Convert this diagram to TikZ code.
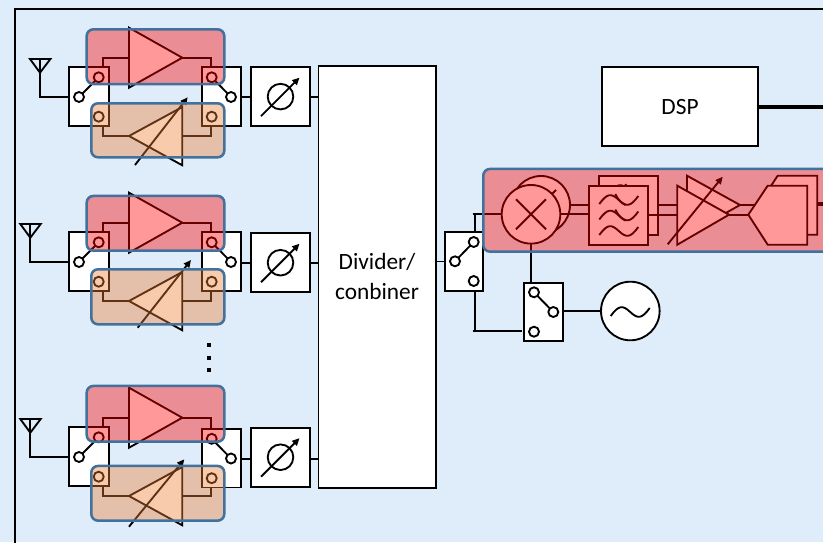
\documentclass[tikz,border=0pt]{standalone}
\usepackage{fontspec}
\setmainfont{Carlito}
\usetikzlibrary{arrows.meta,calc}
\definecolor{bgblue}{HTML}{DFECF9}
\definecolor{edgeblue}{HTML}{41719C}
\definecolor{tanfill}{HTML}{ED7D31}
\tikzset{
  wire/.style={line width=1.4pt,line join=miter},
  boxn/.style 2 args={draw=black,line width=1.4pt,fill=white,rectangle,inner sep=0pt,outer sep=0pt,
    minimum width=#1*0.75pt,minimum height=#2*0.75pt},
  port/.style={draw=black,line width=1.4pt,fill=white,circle,inner sep=0pt,outer sep=0pt,minimum size=10*0.75pt},
  ring/.style={draw=black,line width=1.4pt,fill=white,circle,inner sep=0pt,outer sep=0pt,minimum size=#1*0.75pt},
  solid shape/.style={draw=black,line width=1.4pt,fill=white,line join=miter},
  tune/.style={line width=1.4pt,-{Triangle[length=5.5pt,width=5pt]}},
  overlay base/.style 2 args={rectangle,rounded corners=5pt,inner sep=0pt,outer sep=0pt,
    minimum width=#1*0.75pt,minimum height=#2*0.75pt,draw=edgeblue,line width=1.9pt,
    draw opacity=1,fill opacity=0.4},
  redzone/.style 2 args={overlay base={#1}{#2},fill=red},
  tanzone/.style 2 args={overlay base={#1}{#2},fill=tanfill},
  label text/.style={font=\fontsize{17.5}{22.5}\selectfont,align=center,inner sep=0pt,text=black},
}
% wave: start point is lower left
\newcommand{\wavepath}[2]{(#1,#2) .. controls (#1+8,#2-11) and (#1+12,#2-11) .. (#1+19.5,#2-4) .. controls (#1+27,#2+3) and (#1+31,#2+3) .. (#1+39,#2-8)}
\newcommand{\filtersym}[2]{% #1,#2: left top of the wave group
  \draw[wire] \wavepath{#1}{#2};
  \draw[wire] \wavepath{#1}{#2+15.5};
  \draw[wire] \wavepath{#1}{#2+31};
  \draw[wire] (#1+16,#2-10) .. controls (#1+19,#2-4) and (#1+22,#2-1) .. (#1+26,#2+1);
  \draw[wire] (#1+16,#2+5.5) .. controls (#1+19,#2+11.5) and (#1+22,#2+14.5) .. (#1+26,#2+16.5);
}
% one antenna branch: prefix, y shift, antenna x shift, right box dy, phase box dy, bus dy, arrow start, arrow end
\newcommand{\rfbranch}[8]{
\begin{scope}[shift={(0,#2)}]
  \coordinate (#1-anttip) at ({40+#3},72.7);
  \coordinate (#1-antl) at ({30+#3},59);
  \coordinate (#1-antr) at ({50.4+#3},59);
  \coordinate (#1-anttop) at ({40+#3},59);
  \node[boxn={39.4}{58.7}] (#1-lb) at (89,96.7) {};
  \node[boxn={38.7}{58.7}] (#1-rb) at (221.65,{96.7+#4}) {};
  \node[boxn={59}{59}] (#1-ph) at (280.5,{96.6+#5}) {};
  \draw[wire] (#1-anttop) |- (#1-lb.west);
  \draw[solid shape,fill=none] (#1-antl) -- (#1-antr) -- (#1-anttip) -- cycle;
  \coordinate (#1-bus) at (0,{97+#6});
  \draw[wire] (#1-rb.east |- #1-bus) -- (#1-ph.west |- #1-bus);
  \draw[wire] (#1-ph.east |- #1-bus) -- (div.west |- #1-bus);
  % switch ports
  \node[port] (#1-lp1) at (98.7,77.3) {};
  \node[port] (#1-lp2) at (98.7,116.7) {};
  \node[port] (#1-lc) at (79,97) {};
  \node[port] (#1-rp1) at (211.7,{77.3+#4}) {};
  \node[port] (#1-rp2) at (211.7,{116.7+#4}) {};
  \node[port] (#1-rc) at (231,{97+#4}) {};
  \draw[wire] (#1-lc) -- (#1-lp1);
  \draw[wire] (#1-rc) -- (#1-rp1);
  % power amplifier
  \coordinate (#1-pat) at (129,27.7);
  \coordinate (#1-pab) at (129,87.7);
  \coordinate (#1-pain) at (129,57.7);
  \coordinate (#1-paout) at (182.3,57.7);
  \draw[wire] (#1-pain) -| (#1-lb.north -| 102.7,0);
  \draw[wire] (#1-paout) -| (#1-rb.north -| 210.7,0);
  \draw[solid shape] (#1-pat) -- (#1-paout) -- (#1-pab) -- cycle;
  % variable amplifier
  \coordinate (#1-vain) at (129,136);
  \coordinate (#1-vat) at (182.3,107);
  \coordinate (#1-vab) at (182.3,165.3);
  \coordinate (#1-vaout) at (182.3,136);
  \draw[wire] (#1-vain) -| (#1-lb.south -| 102.7,0);
  \draw[wire] (#1-vaout) -| (#1-rb.south -| 210.7,0);
  \draw[solid shape] (#1-vain) -- (#1-vat) -- (#1-vab) -- cycle;
  \coordinate (#1-arra) at #7;
  \coordinate (#1-arrb) at #8;
  \draw[tune] (#1-arra) -- (#1-arrb);
  % phase shifter
  \node[ring=25.6] (#1-phc) at (#1-ph.center) {};
  \coordinate (#1-pa1) at ($(#1-ph.center)+(-19.5,19.5)$);
  \coordinate (#1-pa2) at ($(#1-ph.center)+(19,-19)$);
  \draw[tune] (#1-pa1) -- (#1-pa2);
\end{scope}
}
\begin{document}
\begin{tikzpicture}[x=0.75pt,y=-0.75pt]
\useasboundingbox (0,0) rectangle (823,542);
\fill[bgblue] (0,0) rectangle (823,542);
\clip (0,0) rectangle (823,542);
\coordinate (frame-bl) at (15,560);
\coordinate (frame-tl) at (15,8.8);
\coordinate (frame-tr) at (840,8.8);
\draw[line width=1.4pt] (frame-bl) -- (frame-tl) -- (frame-tr);

\node[boxn={117.5}{422},label text] (div) at (377.25,277) {};
\node[label text] (divtext) at (377,276) {Divider/\\conbiner};
\node[boxn={156.6}{78.4}] (dsp) at (680,106.5) {};
\node[label text] (dsptext) at (680,107) {DSP};
\coordinate (dspout) at (830,107);
\draw[line width=3pt] (dsp.east) ++(-1,0) -- (dspout |- dsp.east);

\rfbranch{a}{0}{0}{0}{0}{0}{(135,165)}{(187.7,97.3)}
\rfbranch{b}{165}{-9.7}{0}{1.1}{0.7}{(137.7,162.7)}{(191,95)}
\rfbranch{c}{360}{-9.7}{1.5}{0.6}{1.7}{(129,166.7)}{(184.3,99.3)}

% dots
\fill (206.7,343) rectangle +(4,4);
\fill (206.7,355.7) rectangle +(4,4);
\fill (206.7,368) rectangle +(4,4);

% transmit/receive chain switches
\node[boxn={38}{58.4}] (txsw) at (464.3,261.5) {};
\node[port] (txa) at (473.7,242) {};
\node[port] (txc) at (455,261.3) {};
\node[port] (txb) at (473.7,281) {};
\draw[wire] (txc) -- (txa);
\draw[wire] (div.east |- txsw.west) -- (txsw.west);
\node[boxn={39.3}{58.6}] (losw) at (543.65,312) {};
\node[port] (loa) at (534,292.3) {};
\node[port] (loc) at (553.3,312) {};
\node[port] (lob) at (534,331.7) {};
\draw[wire] (loc) -- (loa);
\node[ring=58.6] (osc) at (630.3,311) {};
\draw[wire] (losw.east |- osc.west) -- (osc.west);
\draw[wire] \wavepath{610.7}{316};

% back layer of the chain
\node[boxn={59.3}{59.3}] (filb) at (628.65,205.35) {};
\filtersym{609.3}{194}
\node[ring=58] (mixb) at (541,205) {};
\draw[wire] (526,190) -- (556,220);
\draw[wire] (556,190) -- (526,220);
\coordinate (vgbt) at (687,175.7);
\coordinate (vgbb) at (687,234.7);
\coordinate (vgbo) at (740,205);
\coordinate (adbl) at (758.3,205);
\coordinate (stub) at (830,203.5);
\draw[wire] (mixb.east) -- (filb.west |- mixb.east);
\draw[wire] (filb.east |- vgbo) -- (vgbt |- vgbo);
\draw[wire] (vgbo) -- (adbl);
\draw[solid shape] (vgbt) -- (vgbo) -- (vgbb) -- cycle;
\coordinate (adb1) at (817.3,175.7);
\coordinate (adb2) at (817.3,234.7);
\coordinate (adb3) at (777.7,234.7);
\coordinate (adb5) at (777.7,175.7);
\draw[solid shape] (adb1) -- (adb2) -- (adb3) -- (adbl) -- (adb5) -- cycle;
\draw[line width=3pt] (adb1 |- stub) -- (stub);

% front layer of the chain
\node[boxn={59}{59}] (filf) at (618.8,215.2) {};
\filtersym{599.3}{204}
\node[ring=58.6] (mixf) at (531,214.3) {};
\draw[wire] (516,199.3) -- (546,229.3);
\draw[wire] (546,199.3) -- (516,229.3);
\coordinate (vgft) at (677.3,185.7);
\coordinate (vgfb) at (677.3,244.7);
\coordinate (vgfo) at (729,214.7);
\coordinate (adfl) at (748.3,214.7);
\coordinate (vga1) at (667.7,244.3);
\coordinate (vga2) at (722.7,176.7);
\draw[wire] (mixf.east) -- (filf.west |- mixf.east);
\draw[wire] (filf.east |- vgfo) -- (vgft |- vgfo);
\draw[wire] (vgfo) -- (adfl);
\draw[solid shape] (vgft) -- (vgfo) -- (vgfb) -- cycle;
\draw[tune] (vga1) -- (vga2);
\coordinate (adf1) at (807.3,185.7);
\coordinate (adf2) at (807.3,244.7);
\coordinate (adf3) at (767.7,244.7);
\coordinate (adf5) at (767.7,185.7);
\draw[solid shape] (adf1) -- (adf2) -- (adf3) -- (adfl) -- (adf5) -- cycle;

% routing between switches and mixer
\coordinate (t1) at (475,232.3);
\coordinate (t2) at (475,214.3);
\coordinate (t3) at (472.5,214.3);
\coordinate (b1) at (475,290.7);
\coordinate (b2) at (475,331);
\coordinate (b3) at (472.5,331);
\coordinate (b4) at (521.7,331);
\draw[wire] (t1) -- (t2);
\draw[wire] (t3) -- (mixf.west);
\draw[wire] (b1) -- (b2);
\draw[wire] (b3) -- (b4);
\draw[wire] (mixf.south) -- (mixf.south |- losw.north);

% translucent highlight zones
\node[redzone={137.6}{54.7}] (za1) at (155.5,56.7) {};
\node[tanzone={133}{54}] (za2) at (157.8,130.3) {};
\node[redzone={137.6}{54.7}] (zb1) at (155.5,223.3) {};
\node[tanzone={133}{55}] (zb2) at (157.8,296.8) {};
\node[redzone={137.6}{55.7}] (zc1) at (155.5,413.8) {};
\node[tanzone={133}{54.7}] (zc2) at (157.8,493.3) {};
\node[redzone={360}{82.7}] (zt) at (663.3,210.3) {};
\end{tikzpicture}
\end{document}
